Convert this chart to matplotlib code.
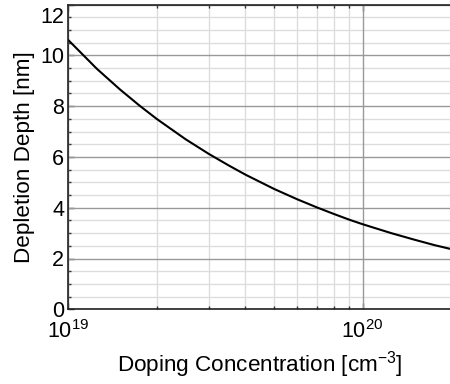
import matplotlib
matplotlib.use('Agg')
import matplotlib.pyplot as plt
import matplotlib.transforms as mtransforms
from matplotlib.ticker import MultipleLocator, LogLocator, NullFormatter

plt.rcParams['font.family'] = ['Liberation Sans', 'DejaVu Sans']
plt.rcParams['mathtext.fontset'] = 'custom'
plt.rcParams['mathtext.rm'] = 'Liberation Sans'
plt.rcParams['mathtext.it'] = 'Liberation Sans'

# Werte
doping = [1.0e19, 1.25e19, 1.5e19, 1.75e19, 2.0e19, 2.5e19, 3.0e19, 3.5e19,
          4.0e19, 5.0e19, 6.0e19, 7.0e19, 8.0e19, 9.0e19, 1.0e20,
          1.25e20, 1.5e20, 1.75e20, 2.0e20]
depth = [10.60, 9.47, 8.65, 8.01, 7.49, 6.70, 6.12, 5.67,
         5.30, 4.74, 4.33, 4.01, 3.75, 3.53, 3.35,
         3.00, 2.74, 2.53, 2.37]
yticks = [0, 2, 4, 6, 8, 10, 12]

fig = plt.figure(figsize=(4.5, 3.84), dpi=100)
ax = fig.add_axes([68.3 / 450, 1 - 309.3 / 384, (451.2 - 68.3) / 450, (309.3 - 4.5) / 384])

ax.plot(doping, depth, color='black', lw=1.5, zorder=3)

ax.set_xscale('log')
ax.set_xlim(1e19, 2e20)
ax.set_ylim(0, 12)
ax.set_yticks(yticks)
ax.yaxis.set_minor_locator(MultipleLocator(0.5))
ax.xaxis.set_minor_locator(LogLocator(base=10, subs=range(2, 10)))
ax.xaxis.set_minor_formatter(NullFormatter())
ax.set_xticks([1e19, 1e20])
ax.set_xticklabels([r'$10^{19}$', r'$10^{20}$'])

# feines Gitter unten, Hauptgitter darueber
ax.grid(which='minor', color='#dddddd', lw=1.0, ls='-')
ax.set_axisbelow(True)
for xv in ax.get_xticks():
    ax.axvline(xv, color='#999999', lw=1.0, zorder=0.8)
for yv in ax.get_yticks():
    ax.axhline(yv, color='#999999', lw=1.0, zorder=0.8)

ax.tick_params(which='both', direction='in', top=True, right=False, labelsize=15.5, width=1.0, color='#333333')
ax.tick_params(which='major', length=4)
ax.tick_params(which='minor', length=2.5)
ax.tick_params(axis='x', pad=8)
ax.tick_params(axis='y', pad=3)
for s in ax.spines.values():
    s.set_linewidth(1.2)
    s.set_color('#222222')
    s.set_zorder(4)

ax.set_xlabel(r'Doping Concentration [cm$^{-3}$]', fontsize=16.2, labelpad=4)
ax.set_ylabel('Depletion Depth [nm]', fontsize=16.2, labelpad=4)

# oberstes Label nach unten geschoben wie im Original
fig.canvas.draw()
lab = ax.get_yticklabels()[-1]
lab.set_transform(lab.get_transform() + mtransforms.ScaledTranslation(0, -10 / 100, fig.dpi_scale_trans))

fig.savefig('out.png', dpi=100)
